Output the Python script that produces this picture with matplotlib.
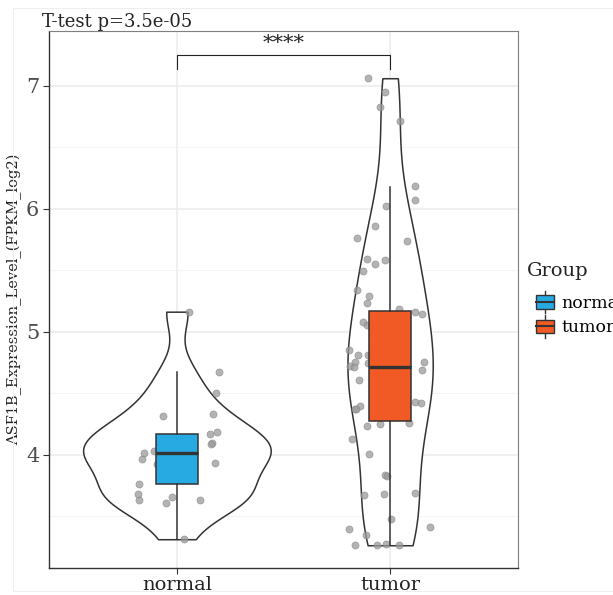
import matplotlib
matplotlib.use("Agg")
import matplotlib.pyplot as plt
from matplotlib.patches import Rectangle
from matplotlib.lines import Line2D
from matplotlib.legend_handler import HandlerBase
import numpy as np

plt.rcParams['font.family'] = ['DejaVu Serif']

groups = ["normal", "tumor"]
colors = ["#27AAE1", "#F15A24"]

# expression values
normal_vals = [5.165, 4.672, 4.507, 4.333, 4.32, 4.173, 4.184, 4.10, 4.092, 4.019,
               4.035, 3.967, 3.93, 3.938, 3.762, 3.683, 3.632, 3.659, 3.612, 3.634, 3.315]
normal_jit = [0.055, 0.197, 0.184, 0.170, -0.064, 0.155, 0.186, 0.164, 0.158, -0.155,
              -0.106, -0.164, -0.095, 0.177, -0.177, -0.181, -0.177, -0.025, -0.052, 0.108, 0.034]

tumor_vals = [7.063, 6.951, 6.827, 6.718, 6.187, 6.076, 6.022, 5.862, 5.764, 5.740,
              5.593, 5.555, 5.585, 5.498, 5.341, 5.290, 5.233, 5.187, 5.160, 5.144,
              5.081, 5.06, 4.856, 4.81, 4.815, 4.756, 4.72, 4.715, 4.75, 4.753,
              4.694, 4.61, 4.433, 4.42, 4.40, 4.37, 4.375, 4.238, 4.252, 4.263,
              4.133, 4.008, 3.835, 3.83, 3.677, 3.685, 3.691, 3.48, 3.40, 3.417,
              3.347, 3.268, 3.266, 3.276, 3.266]
tumor_jit = [-0.102, -0.024, -0.046, 0.045, 0.115, 0.116, -0.021, -0.069, -0.154, 0.079,
             -0.110, -0.069, -0.024, -0.129, -0.156, -0.098, -0.106, 0.041, 0.115, 0.152,
             -0.126, -0.107, -0.193, -0.152, -0.104, -0.165, -0.190, -0.167, -0.104, 0.159,
             0.148, -0.148, 0.115, 0.143, -0.142, -0.165, -0.159, -0.107, -0.049, 0.091,
             -0.179, -0.099, -0.026, -0.015, -0.123, -0.027, 0.116, 0.004, -0.193, 0.185,
             -0.114, -0.165, -0.062, -0.020, 0.043]

# box stats
box_q1 = [3.764, 4.276]
box_med = [4.016, 4.715]
box_q3 = [4.17, 5.17]
box_lo = [3.315, 3.266]
box_hi = [4.675, 6.18]

title = "T-test p=3.5e-05"
ylabel = "ASF1B_Expression_Level_(FPKM_log2)"


class BoxHandler(HandlerBase):
    def create_artists(self, legend, orig, xd, yd, w, h, fontsize, trans):
        x0, y0 = -xd, -yd
        vl = Line2D([x0 + w / 2] * 2, [y0 - 3, y0 + h + 3], color="#333333", lw=1, transform=trans)
        r = Rectangle((x0, y0), w, h, fc=orig.get_facecolor(), ec="#333333", lw=1, transform=trans)
        mid = Line2D([x0, x0 + w], [y0 + h / 2] * 2, color="#333333", lw=1.5, transform=trans)
        return [vl, r, mid]


def nrd0(adjust):
    def f(kde):
        d = np.asarray(kde.dataset).ravel()
        sd = d.std(ddof=1)
        iqr = np.subtract(*np.percentile(d, [75, 25]))
        bw = 0.9 * min(sd, iqr / 1.34) * len(d) ** -0.2
        return adjust * bw / sd
    return f


fig = plt.figure(figsize=(6.13, 5.95), dpi=100)
ax = fig.add_axes([49 / 613, 1 - 568 / 595, 469 / 613, 537 / 595])

# faint outer frame
fig.patches.append(Rectangle((13 / 613, 1 - 591 / 595), 0.99, 583 / 595, transform=fig.transFigure,
                             fill=False, ec="#eeeeee", lw=0.8))

data = [normal_vals, tumor_vals]
jits = [normal_jit, tumor_jit]
pos = [1, 2]

for p, vals, w, adj in zip(pos, data, [0.88, 0.40], [0.92, 0.95]):
    vp = ax.violinplot([vals], positions=[p], widths=w, showextrema=False,
                       bw_method=nrd0(adj), points=200)
    for b in vp["bodies"]:
        b.set_facecolor("white")
        b.set_alpha(1)
        b.set_edgecolor("#333333")
        b.set_linewidth(1.1)
        b.set_zorder(2)

for p, vals, jit in zip(pos, data, jits):
    ax.scatter(np.array(jit) + p, vals, s=26, color="#9a9a9a", alpha=0.75,
               edgecolors="#888888", linewidths=0.5, zorder=3)

stats = []
for i in range(2):
    stats.append(dict(med=box_med[i], q1=box_q1[i], q3=box_q3[i],
                      whislo=box_lo[i], whishi=box_hi[i], fliers=[]))
bp = ax.bxp(stats, positions=pos, widths=0.2, showcaps=False, patch_artist=True,
            boxprops=dict(edgecolor="#333333", linewidth=1.1),
            whiskerprops=dict(color="#333333", linewidth=1.1),
            medianprops=dict(color="#333333", linewidth=2.4))
for patch, c in zip(bp["boxes"], colors):
    patch.set_facecolor(c)
for k in ["boxes", "whiskers", "medians"]:
    for a in bp[k]:
        a.set_zorder(4)

# significance bracket
ax.plot([1, 1, 2, 2], [7.138, 7.252, 7.252, 7.138], color="#222222", lw=0.8, zorder=5)
ax.text(1.5, 7.27, "****", ha="center", va="bottom", fontsize=15, color="#222222")

ax.set_xlim(0.4, 2.6)
ax.set_ylim(3.081, 7.447)
ax.set_xticks(pos)
ax.set_xticklabels(groups, fontsize=14)
ax.set_yticks([4, 5, 6, 7])
ax.set_yticks([3.5, 4.5, 5.5, 6.5], minor=True)
ax.tick_params(axis="y", labelsize=15, length=4, pad=3, colors="#333333", labelcolor="#4d4d4d")
ax.tick_params(axis="x", length=4, pad=2, colors="#333333", labelcolor="#222222")
ax.tick_params(which="minor", length=0)
ax.grid(True, which="major", color="#ebebeb", lw=1.1, zorder=0)
ax.grid(True, which="minor", axis="y", color="#f2f2f2", lw=0.6, zorder=0)
ax.set_axisbelow(True)
for s in ["top", "right"]:
    ax.spines[s].set_color("#7f7f7f")
    ax.spines[s].set_linewidth(0.8)
for s in ["left", "bottom"]:
    ax.spines[s].set_color("#333333")
    ax.spines[s].set_linewidth(1.0)

ax.set_ylabel(ylabel, fontsize=10.5, color="#222222", labelpad=3)
fig.text(42 / 613, 1 - 27 / 595, title, fontsize=13, ha="left", va="baseline", color="#222222")

fig.text(527 / 613, 1 - 271 / 595, "Group", fontsize=14, ha="left", va="center", color="#222222")
handles = [Rectangle((0, 0), 1, 1, fc=c) for c in colors]
leg = fig.legend(handles, groups, loc="upper left",
                 bbox_to_anchor=(520 / 613, 1 - 279 / 595), frameon=False,
                 handler_map={Rectangle: BoxHandler()}, fontsize=12.5,
                 handlelength=1.05, handleheight=0.85, handletextpad=0.45,
                 labelspacing=0.45, borderpad=0.4)

fig.savefig("out.png", dpi=100)
